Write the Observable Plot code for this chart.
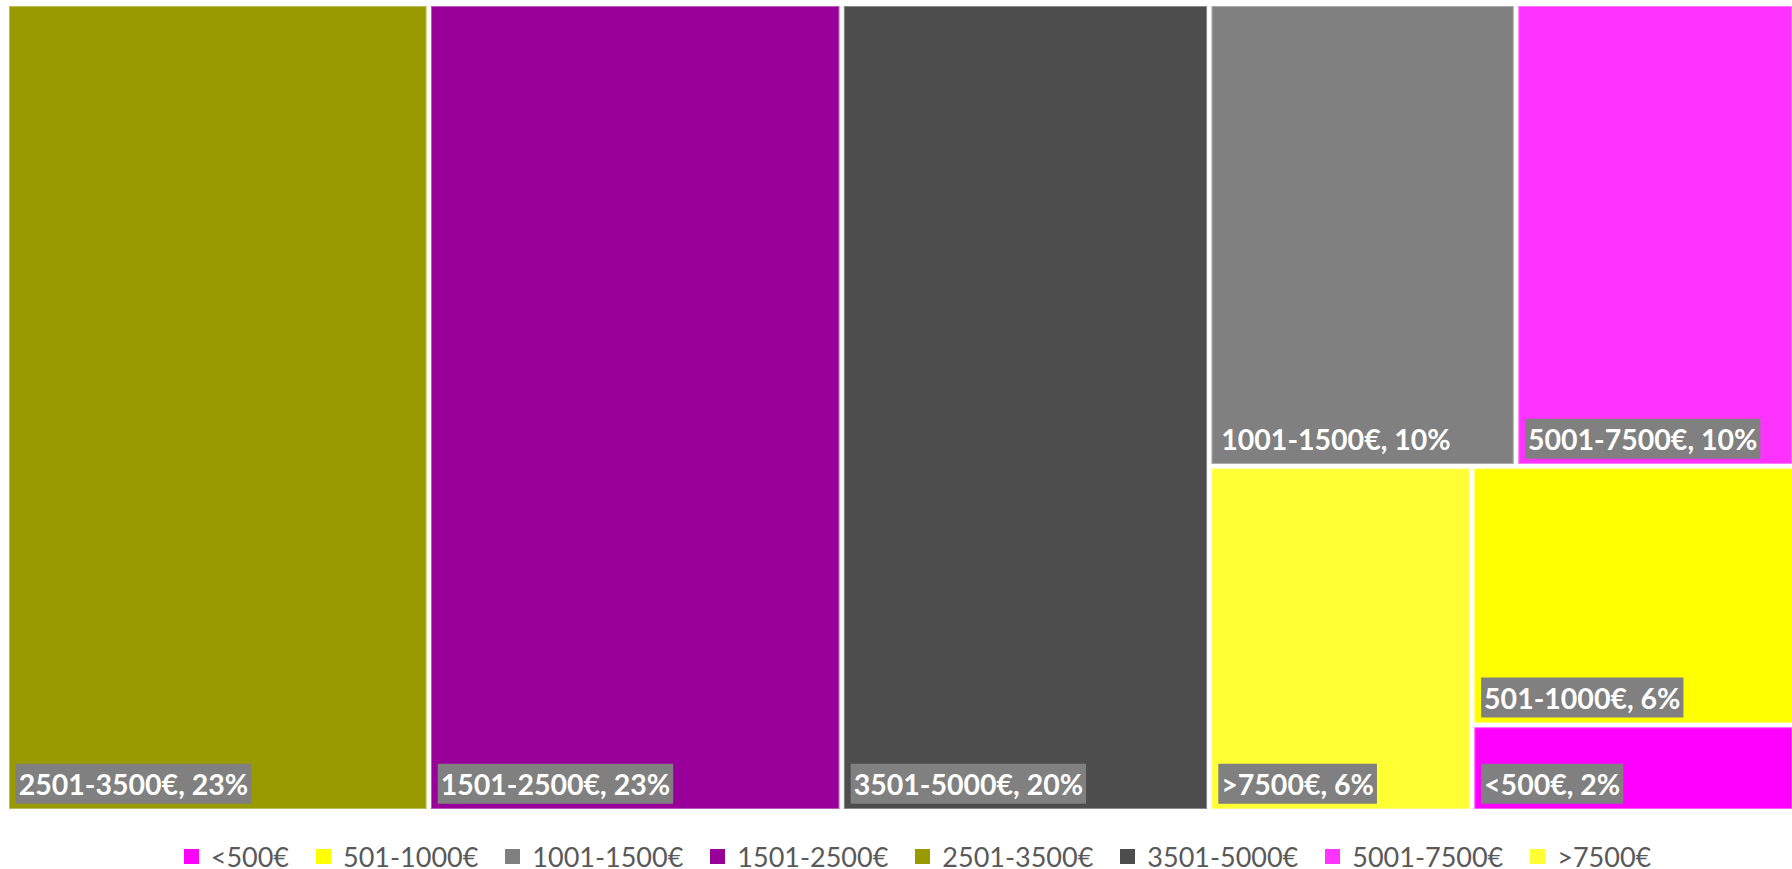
<!DOCTYPE html>
<html>
<head>
<meta charset="utf-8">
<script src="https://cdn.jsdelivr.net/npm/d3@7"></script>
<script src="https://cdn.jsdelivr.net/npm/@observablehq/plot@0.6"></script>
<style>
  html, body { margin: 0; padding: 0; background: #fff; }
  #chart { width: 1792px; }
  #legend {
    display: flex; justify-content: center; align-items: center;
    gap: 27px; margin-top: 24px; padding-left: 43px;
    font-family: Lato, "Open Sans", sans-serif; font-size: 27px; color: #595959;
    height: 28px;
  }
  #legend .item { display: flex; align-items: center; white-space: nowrap; }
  #legend .sw { width: 15px; height: 15px; margin-right: 12px; display: inline-block; }
</style>
</head>
<body>
<div id="chart"></div>
<div id="legend"></div>
<script>
// Categories in legend order
const categories = ["<500€", "501-1000€", "1001-1500€", "1501-2500€", "2501-3500€", "3501-5000€", "5001-7500€", ">7500€"];
const colors = ["#ff00ff", "#ffff00", "#808080", "#990099", "#999900", "#4d4d4d", "#ff33ff", "#ffff33"];
// Estimated cell sizes (share, %) read from the tile areas
const values = [1.9, 5.7, 9.7, 22.8, 23.3, 20.3, 8.8, 6.2];
// Percent labels as printed on the tiles
const percentLabels = ["2%", "6%", "10%", "23%", "23%", "20%", "10%", "6%"];

// Tile grouping (Excel-style arrangement), names only
const layoutTree = {children: [
  {name: "2501-3500€"}, {name: "1501-2500€"}, {name: "3501-5000€"},
  {children: [
    {children: [{name: "1001-1500€"}, {name: "5001-7500€"}]},
    {children: [{name: ">7500€"}, {children: [{name: "501-1000€"}, {name: "<500€"}]}]}
  ]}
]};

const idx = name => categories.indexOf(name);
const root = d3.hierarchy(layoutTree).sum(d => d.name ? values[idx(d.name)] : 0);
d3.treemap().tile(d3.treemapSliceDice).size([1, 1]).round(false)(root);

const cells = root.leaves().map(n => ({
  cat: n.data.name,
  x0: n.x0, x1: n.x1, y0: n.y0, y1: n.y1,
  label: `${n.data.name}, ${percentLabels[idx(n.data.name)]}`
}));

const W = 1792, H = 818, half = 2.25;
const chart = Plot.plot({
  width: W, height: H,
  margin: 0,
  x: {domain: [0, 1], range: [9 - half, W + half], axis: null},
  y: {domain: [0, 1], range: [6 - half, 809 + half], axis: null},
  color: {domain: categories, range: colors},
  style: {background: "white"},
  marks: [
    Plot.rect(cells, {x1: "x0", x2: "x1", y1: "y0", y2: "y1", fill: "cat", inset: half}),
    Plot.rect(cells, {x1: "x0", x2: "x1", y1: "y0", y2: "y1", fill: "none", stroke: "white", strokeOpacity: 0.35, strokeWidth: 1, inset: half + 0.5}),
    Plot.text(cells, {
      x: "x0", y: "y1", text: "label",
      textAnchor: "start", lineAnchor: "bottom", dx: 11.5, dy: -17,
      fill: "white", fontWeight: "bold", fontSize: 28.5, fontFamily: "Lato, 'Open Sans', sans-serif"
    })
  ]
});
document.getElementById("chart").appendChild(chart);

// gray label boxes behind tile labels
chart.querySelectorAll('g[aria-label="text"] text').forEach(t => {
  const b = t.getBBox();
  const r = document.createElementNS("http://www.w3.org/2000/svg", "rect");
  r.setAttribute("x", b.x - 3);
  r.setAttribute("y", b.y - 3);
  r.setAttribute("width", b.width + 6);
  r.setAttribute("height", b.height + 6);
  r.setAttribute("fill", "#808080");
  r.setAttribute("stroke", "none");
  if (t.getAttribute("transform")) r.setAttribute("transform", t.getAttribute("transform"));
  t.parentNode.insertBefore(r, t);
});

// legend
const legend = document.getElementById("legend");
categories.forEach((c, i) => {
  const item = document.createElement("span");
  item.className = "item";
  const sw = document.createElement("span");
  sw.className = "sw";
  sw.style.background = colors[i];
  item.appendChild(sw);
  item.appendChild(document.createTextNode(c));
  legend.appendChild(item);
});
</script>
</body>
</html>
